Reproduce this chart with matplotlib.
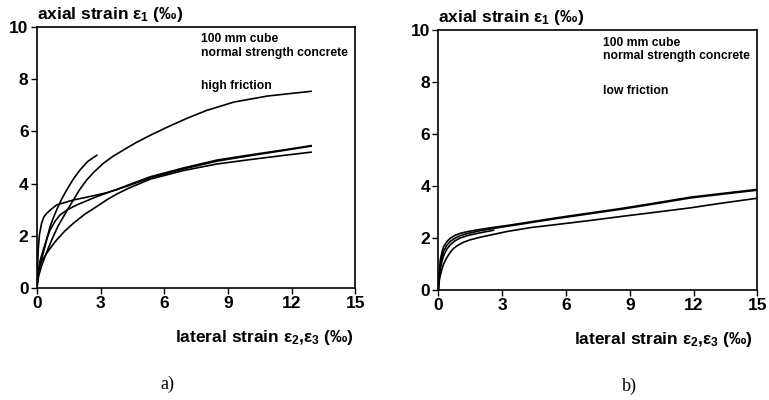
import matplotlib
matplotlib.use("Agg")
import matplotlib.pyplot as plt

plt.rcParams['font.family'] = ['Liberation Sans', 'DejaVu Sans']
plt.rcParams['font.weight'] = 'bold'
plt.rcParams['mathtext.fontset'] = 'custom'
plt.rcParams['mathtext.rm'] = 'Liberation Sans:bold'
plt.rcParams['mathtext.it'] = 'Liberation Sans:bold'
plt.rcParams['mathtext.bf'] = 'Liberation Sans:bold'

# a) high friction curves (lateral strain, axial strain)
hiA_x = [0, 0.05, 0.14, 0.25, 0.38, 0.5, 0.62, 0.78, 0.93, 1.15, 1.40, 1.7, 2.03, 2.4, 2.82]
hiA_y = [0, 0.5, 0.82, 1.2, 1.58, 1.98, 2.35, 2.7, 2.99, 3.38, 3.75, 4.15, 4.52, 4.85, 5.08]
hiB_x = [0, 0.08, 0.2, 0.38, 0.55, 0.77, 1.0, 1.25, 1.48, 1.72, 2.0, 2.35, 2.7, 3.14, 3.6, 4.09,
         4.7, 5.35, 6.2, 7.08, 8.0, 9.29, 10.87, 12.0, 12.92]
hiB_y = [0, 0.45, 0.8, 1.2, 1.55, 1.97, 2.38, 2.73, 3.05, 3.37, 3.75, 4.14, 4.45, 4.78, 5.05, 5.29,
         5.58, 5.85, 6.18, 6.5, 6.8, 7.12, 7.35, 7.45, 7.53]
hiC_x = [0, 0.03, 0.06, 0.12, 0.22, 0.33, 0.46, 0.65, 0.93, 1.3, 1.72, 2.25, 2.82, 3.3, 3.77, 4.32,
         5.35, 6.92, 8.5, 10.08, 11.66, 12.92]
hiC_y = [0, 0.8, 1.46, 2.05, 2.48, 2.72, 2.86, 3.0, 3.18, 3.27, 3.37, 3.46, 3.56, 3.65, 3.77, 3.95,
         4.26, 4.6, 4.9, 5.1, 5.29, 5.45]
hiD_x = [0, 0.02, 0.06, 0.2, 0.46, 0.7, 0.93, 1.3, 1.72, 2.25, 2.82, 3.3, 3.77, 4.32,
         5.35, 6.92, 8.5, 10.08, 11.66, 12.92]
hiD_y = [0, 0.35, 0.69, 1.0, 1.33, 1.6, 1.84, 2.17, 2.48, 2.82, 3.12, 3.38, 3.6, 3.82,
         4.17, 4.5, 4.75, 4.92, 5.08, 5.2]
hiE_x = [0, 0.05, 0.15, 0.3, 0.45, 0.62, 0.85, 1.09, 1.45, 1.88, 2.35, 2.82, 3.5, 4.32,
         5.35, 6.92, 8.5, 10.08, 11.66, 12.92]
hiE_y = [0, 0.6, 1.05, 1.46, 1.85, 2.22, 2.55, 2.8, 3.0, 3.18, 3.34, 3.5, 3.7, 3.92,
         4.22, 4.56, 4.86, 5.07, 5.27, 5.43]

# b) low friction curves
loA_x = [0, 0.03, 0.09, 0.17, 0.25, 0.4, 0.56, 0.78, 1.03, 1.4, 1.97, 2.6, 3.23, 4.33, 5.58, 7.1, 8.71, 10.3, 11.85, 13.4, 15]
loA_y = [0, 0.55, 1.15, 1.45, 1.67, 1.86, 1.99, 2.1, 2.18, 2.25, 2.33, 2.41, 2.48, 2.62, 2.78, 2.96, 3.15, 3.36, 3.57, 3.72, 3.87]
loB_x = [0, 0.03, 0.09, 0.17, 0.25, 0.4, 0.56, 0.72, 0.88, 1.19, 1.5, 1.97, 2.6, 3.23, 4.33, 5.58, 7.1, 8.71, 10.3, 11.85, 13.4, 15]
loB_y = [0, 0.3, 0.55, 0.8, 1.0, 1.25, 1.45, 1.6, 1.7, 1.84, 1.93, 2.03, 2.14, 2.25, 2.4, 2.52, 2.67, 2.84, 3.0, 3.16, 3.35, 3.53]
loC_x = [0, 0.03, 0.09, 0.17, 0.25, 0.4, 0.56, 0.78, 1.03, 1.4, 1.97, 2.6, 3.23, 4.33, 5.58, 7.1, 8.71, 10.3, 11.85, 13.4, 15]
loC_y = [0, 0.45, 0.95, 1.28, 1.5, 1.72, 1.87, 1.99, 2.09, 2.18, 2.28, 2.37, 2.45, 2.59, 2.75, 2.93, 3.12, 3.33, 3.54, 3.69, 3.84]
loD_x = [0, 0.03, 0.09, 0.17, 0.25, 0.4, 0.56, 0.78, 1.03, 1.4, 1.97, 2.6]
loD_y = [0, 0.38, 0.78, 1.1, 1.32, 1.57, 1.74, 1.89, 2.0, 2.1, 2.2, 2.3]

xticks = [0, 3, 6, 9, 12, 15]
yticks = [0, 2, 4, 6, 8, 10]

fig = plt.figure(figsize=(7.69, 4.0), dpi=100)
axA = fig.add_axes([0.048, 0.28, 0.414, 0.653])
axB = fig.add_axes([0.570, 0.275, 0.415, 0.65])

panels = [
    (axA, [(hiA_x, hiA_y), (hiB_x, hiB_y), (hiC_x, hiC_y), (hiD_x, hiD_y), (hiE_x, hiE_y)],
     "high friction", "a)", 0.76, 0.41, 0.995),
    (axB, [(loA_x, loA_y), (loB_x, loB_y), (loC_x, loC_y), (loD_x, loD_y)],
     "low friction", "b)", 0.755, 0.60, 0.987),
]

for ax, curves, fric, tag, fy, tx, lx in panels:
    for cx, cy in curves:
        ax.plot(cx, cy, color='black', lw=1.2, solid_joinstyle='round')
    ax.set_xlim(0, 15)
    ax.set_ylim(0, 10)
    ax.set_xticks(xticks)
    ax.set_yticks(yticks)
    ax.tick_params(direction='out', length=4, width=1, labelsize=12.5, pad=2)
    for lab in ax.get_xticklabels() + ax.get_yticklabels():
        lab.set_fontweight('bold')
    for s in ax.spines.values():
        s.set_linewidth(1.2)
    ax.text(0.0, 1.01, r"axial strain $\varepsilon_1$ (‰)", transform=ax.transAxes,
            fontsize=12.5, fontweight='bold', ha='left', va='bottom')
    ax.text(lx, -0.19, r"lateral strain $\varepsilon_2$,$\varepsilon_3$ (‰)", transform=ax.transAxes,
            fontsize=12.5, fontweight='bold', ha='right', va='center')
    ax.text(0.515, 0.94, "100 mm cube", transform=ax.transAxes, fontsize=8.7, fontweight='bold')
    ax.text(0.515, 0.89, "normal strength concrete", transform=ax.transAxes, fontsize=8.7, fontweight='bold')
    ax.text(0.515, fy, fric, transform=ax.transAxes, fontsize=8.7, fontweight='bold')
    ax.text(tx, -0.37, tag, transform=ax.transAxes, fontsize=13,
            family='Liberation Serif', fontweight='normal', ha='center', va='center')

fig.savefig("out.png", dpi=100)
